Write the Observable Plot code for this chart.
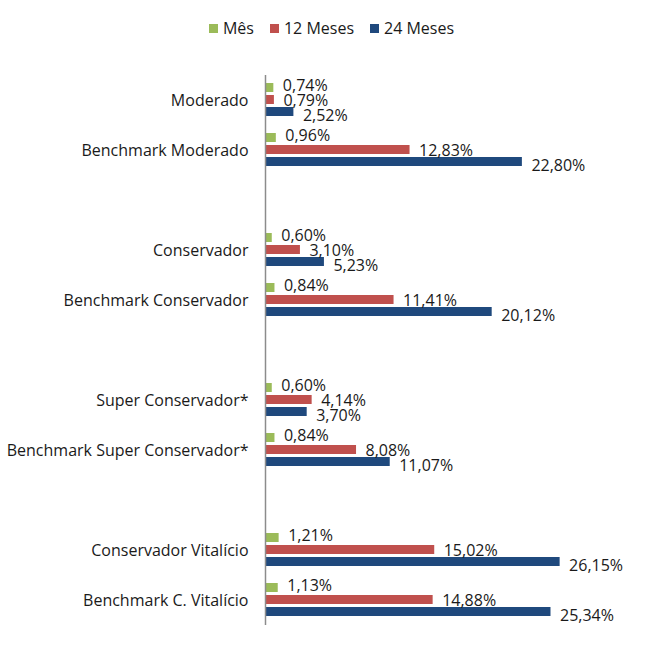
<!DOCTYPE html>
<html>
<head>
<meta charset="utf-8">
<script src="https://cdn.jsdelivr.net/npm/d3@7"></script>
<script src="https://cdn.jsdelivr.net/npm/@observablehq/plot@0.6"></script>
<style>
  html, body { margin: 0; padding: 0; background: #fff; }
  body { width: 654px; font-family: "Open Sans", sans-serif; color: #1a1a1a; }
  #legend { height: 50px; box-sizing: border-box; padding-top: 19px; padding-left: 9px; display: flex; justify-content: center; align-items: flex-start; font-size: 16px; line-height: 18px; }
  .item { display: flex; align-items: center; margin: 0 8px; }
  .sw { width: 9px; height: 9px; margin-right: 5px; }
  svg { display: block; }
</style>
</head>
<body>
<div id="legend"></div>
<div id="chart"></div>
<script>
const categories = ["Moderado", "Benchmark Moderado", "Conservador", "Benchmark Conservador", "Super Conservador*", "Benchmark Super Conservador*", "Conservador Vitalício", "Benchmark C. Vitalício"];
const series = ["Mês", "12 Meses", "24 Meses"];
const mes = [0.74, 0.96, 0.60, 0.84, 0.60, 0.84, 1.21, 1.13];
const meses12 = [0.79, 12.83, 3.10, 11.41, 4.14, 8.08, 15.02, 14.88];
const meses24 = [2.52, 22.80, 5.23, 20.12, 3.70, 11.07, 26.15, 25.34];
const colors = ["#9BBB59", "#C0504D", "#1F497D"];

// facet order with blank separators between pairs
const gaps = ["gap1", "gap2", "gap3"];
const fyDomain = [categories[0], categories[1], gaps[0], categories[2], categories[3], gaps[1], categories[4], categories[5], gaps[2], categories[6], categories[7]];

const valuesBySeries = [mes, meses12, meses24];
const rows = [];
categories.forEach((c, i) => {
  series.forEach((s, j) => rows.push({category: c, series: s, value: valuesBySeries[j][i]}));
});
const fmt = v => v.toFixed(2).replace(".", ",") + "%";

// legend
const legend = document.getElementById("legend");
series.forEach((s, i) => {
  const it = document.createElement("div");
  it.className = "item";
  const sw = document.createElement("div");
  sw.className = "sw";
  sw.style.background = colors[i];
  const t = document.createElement("span");
  t.textContent = s;
  it.appendChild(sw); it.appendChild(t);
  legend.appendChild(it);
});

const labelDy = [-2, 1, 4];
const labelMarks = series.map((s, j) => Plot.text(rows.filter(d => d.series === s), {
  x: "value", y: "series", fy: "category", text: d => fmt(d.value),
  textAnchor: "start", dx: 9, dy: labelDy[j], fill: "#1a1a1a", fontSize: 16
}));

const chart = Plot.plot({
  width: 654,
  height: 619,
  marginLeft: 265,
  marginRight: 51,
  marginTop: 22,
  marginBottom: 41,
  style: {fontFamily: "Open Sans, sans-serif", fontSize: "16px", color: "#1a1a1a", background: "#fff"},
  fy: {domain: fyDomain, padding: 0, axis: "left", label: null, tickSize: 0, tickPadding: 17, tickFormat: d => gaps.includes(d) ? "" : d},
  y: {domain: series, paddingInner: 0.23, paddingOuter: 0.56, axis: null},
  x: {domain: [0, 30], axis: null},
  color: {domain: series, range: colors},
  marks: [
    Plot.barX(rows, {x: "value", y: "series", fy: "category", fill: "series"}),
    Plot.ruleX(fyDomain, {x: 0, fy: d => d, stroke: "#8c8c8c", strokeWidth: 1.5}),
    ...labelMarks
  ]
});
document.getElementById("chart").appendChild(chart);
</script>
</body>
</html>
